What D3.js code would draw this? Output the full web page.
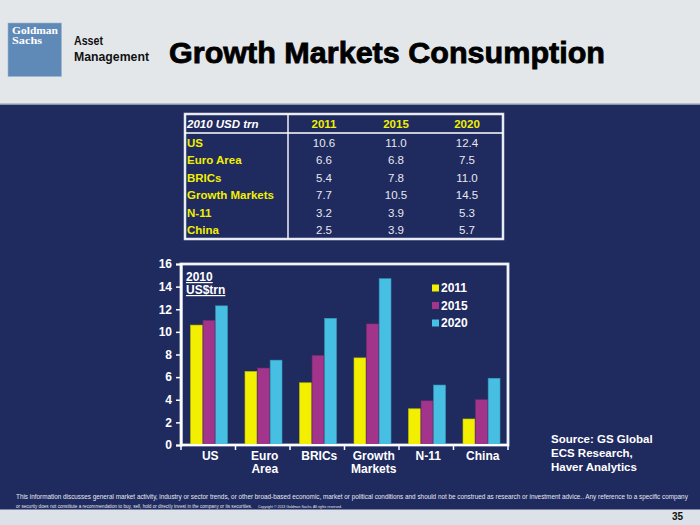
<!DOCTYPE html>
<html><head><meta charset="utf-8">
<script src="https://cdn.jsdelivr.net/npm/d3@7"></script>
<style>html,body{margin:0;padding:0;background:#1f2a5f;}svg{display:block;font-family:"Liberation Sans",Arial,sans-serif;}</style>
</head><body><svg id="c" width="700" height="525"></svg>
<script>
// ---- data ----
const categories = ["US", "Euro Area", "BRICs", "Growth Markets", "N-11", "China"];
const categoryLines = [["US"], ["Euro", "Area"], ["BRICs"], ["Growth", "Markets"], ["N-11"], ["China"]];
const seriesNames = ["2011", "2015", "2020"];
const values2011 = [10.6, 6.5, 5.5, 7.7, 3.2, 2.3];
const values2015 = [11.0, 6.8, 7.9, 10.7, 3.9, 4.0];
const values2020 = [12.3, 7.5, 11.2, 14.7, 5.3, 5.9];
const yTicks = [0, 2, 4, 6, 8, 10, 12, 14, 16];
const tableHeader = ["2010 USD trn", "2011", "2015", "2020"];
const tableRows = ["US", "Euro Area", "BRICs", "Growth Markets", "N-11", "China"];
const table2011 = [10.6, 6.6, 5.4, 7.7, 3.2, 2.5];
const table2015 = [11.0, 6.8, 7.8, 10.5, 3.9, 3.9];
const table2020 = [12.4, 7.5, 11.0, 14.5, 5.3, 5.7];

const NAVY = "#1f2a5f", YEL = "#f2ef00", MAG = "#a2358b", CYAN = "#46bfe3";
const colors = [YEL, MAG, CYAN];
const svg = d3.select("#c");

// fit a text's font-size so its natural width equals the target width
function fitText(sel, target) {
  const n = sel.node();
  const w = n.getComputedTextLength();
  const fs = parseFloat(sel.attr("font-size"));
  if (w > 0) sel.attr("font-size", fs * target / w);
  return sel;
}

// ---- background ----
svg.append("rect").attr("x",0).attr("y",0).attr("width",700).attr("height",525).attr("fill",NAVY);
svg.append("rect").attr("x",0).attr("y",0).attr("width",700).attr("height",104).attr("fill","#e4e7ea");
svg.append("rect").attr("x",0).attr("y",103.5).attr("width",700).attr("height",1.5).attr("fill","#8a93ad");

// logo
svg.append("rect").attr("x",8).attr("y",23).attr("width",53.5).attr("height",53.5).attr("fill","#5f89b6").attr("stroke","#9fb6d2").attr("stroke-width",0.6);
svg.append("text").attr("x",12).attr("y",33.5).attr("fill","#fff").attr("font-family","'Liberation Serif',serif").attr("font-weight","bold").attr("font-size",10).attr("textLength",46).attr("lengthAdjust","spacingAndGlyphs").text("Goldman");
svg.append("text").attr("x",12).attr("y",44).attr("fill","#fff").attr("font-family","'Liberation Serif',serif").attr("font-weight","bold").attr("font-size",10).attr("textLength",30).attr("lengthAdjust","spacingAndGlyphs").text("Sachs");
svg.append("text").attr("x",74).attr("y",45).attr("fill","#111").attr("font-weight","bold").attr("font-size",12).attr("textLength",29).attr("lengthAdjust","spacingAndGlyphs").text("Asset");
svg.append("text").attr("x",74).attr("y",61).attr("fill","#111").attr("font-weight","bold").attr("font-size",12).attr("textLength",75).attr("lengthAdjust","spacingAndGlyphs").text("Management");
svg.append("text").attr("x",169).attr("y",63).attr("fill","#000").attr("stroke","#000").attr("stroke-width",0.8).attr("font-weight","bold").attr("font-size",29).attr("textLength",436).attr("lengthAdjust","spacingAndGlyphs").text("Growth Markets Consumption");

// ---- table ----
const tb = svg.append("g");
const tL = 185, tR = 503, tT = 114, tB = 239, tV = 288, tH = 133;
tb.append("rect").attr("x",tL).attr("y",tT).attr("width",tR-tL).attr("height",tB-tT).attr("fill","none").attr("stroke","#c9cde0").attr("stroke-width",2.6);
tb.append("rect").attr("x",tL).attr("y",tT).attr("width",tR-tL).attr("height",tB-tT).attr("fill","none").attr("stroke","#fff").attr("stroke-width",1.2);
tb.append("line").attr("x1",tL).attr("x2",tR).attr("y1",tH).attr("y2",tH).attr("stroke","#fff").attr("stroke-width",1.4);
tb.append("line").attr("x1",tV).attr("x2",tV).attr("y1",tT).attr("y2",tB).attr("stroke","#fff").attr("stroke-width",1.4);
const colX = [187, 324, 396, 467];
const rowY = d3.scaleLinear().domain([0, tableRows.length-1]).range([142.7, 230]);
tb.append("text").attr("x",colX[0]).attr("y",124).attr("dy","0.35em").attr("fill","#fff").attr("font-weight","bold").attr("font-style","italic").attr("font-size",11.5).text(tableHeader[0]);
tableHeader.slice(1).forEach((h,i)=>{
  tb.append("text").attr("x",colX[i+1]).attr("y",124).attr("dy","0.35em").attr("text-anchor","middle").attr("fill",YEL).attr("font-weight","bold").attr("font-size",11.5).text(h);
});
const tcols = [table2011, table2015, table2020];
tableRows.forEach((r,i)=>{
  tb.append("text").attr("x",colX[0]).attr("y",rowY(i)).attr("dy","0.35em").attr("fill",YEL).attr("font-weight","bold").attr("font-size",11.5).text(r);
  tcols.forEach((col,j)=>{
    tb.append("text").attr("x",colX[j+1]).attr("y",rowY(i)).attr("dy","0.35em").attr("text-anchor","middle").attr("fill","#e8e8ee").attr("font-size",11.5).text(col[i].toFixed(1));
  });
});

// ---- chart ----
const x0 = 181, x1 = 508, yTop = 264, yBot = 445;
const x = d3.scaleBand().domain(categories).range([x0, x1]).padding(0);
const xs = d3.scaleBand().domain(seriesNames).range([9.5, 46.5]).paddingInner(0.06);
const y = d3.scaleLinear().domain([0, 16]).range([yBot, yTop]);
const series = [values2011, values2015, values2020];
const chart = svg.append("g");

// frame
chart.append("rect").attr("x",x0).attr("y",yTop).attr("width",x1-x0).attr("height",yBot-yTop).attr("fill","none").attr("stroke","#c0c5da").attr("stroke-width",3);
chart.append("rect").attr("x",x0).attr("y",yTop).attr("width",x1-x0).attr("height",yBot-yTop).attr("fill","none").attr("stroke","#fff").attr("stroke-width",1.6);

// bars
seriesNames.forEach((s,si)=>{
  chart.selectAll(null).data(categories).enter().append("rect")
    .attr("x", d=>x(d)+xs(s)).attr("width", xs.bandwidth())
    .attr("y", (d,i)=>y(series[si][i])).attr("height",(d,i)=>yBot-y(series[si][i]))
    .attr("fill", colors[si]).attr("stroke", d3.color(colors[si]).darker(0.6)).attr("stroke-width",0.6);
});

// y axis
const yAxis = chart.append("g").attr("transform",`translate(${x0},0)`)
  .call(d3.axisLeft(y).tickValues(yTicks).tickSize(5).tickFormat(d3.format("d")));
yAxis.select(".domain").attr("stroke","#fff").attr("stroke-width",2);
yAxis.selectAll(".tick line").attr("stroke","#fff").attr("stroke-width",1.5);
yAxis.selectAll(".tick text").attr("fill","#fff").attr("font-weight","bold").attr("font-size",12).attr("x",-9).attr("font-family","'Liberation Sans',Arial,sans-serif");

// x axis
const xAxis = chart.append("g").attr("transform",`translate(0,${yBot})`);
xAxis.append("line").attr("x1",x0).attr("x2",x1).attr("stroke","#fff").attr("stroke-width",2);
const bounds = categories.map(c=>x(c)).concat([x1]);
xAxis.selectAll(null).data(bounds).enter().append("line")
  .attr("x1",d=>d).attr("x2",d=>d).attr("y1",0).attr("y2",5).attr("stroke","#fff").attr("stroke-width",1.5);
categories.forEach((c,i)=>{
  categoryLines[i].forEach((ln,k)=>{
    xAxis.append("text").attr("x",x(c)+x.bandwidth()/2+2).attr("y",15+k*12.5).attr("text-anchor","middle")
      .attr("fill","#fff").attr("font-weight","bold").attr("font-size",12).text(ln);
  });
});

// unit annotation
[["2010",281],["US$trn",294]].forEach(([t,yy])=>{
  chart.append("text").attr("x",186).attr("y",yy).attr("fill","#fff").attr("font-weight","bold").attr("font-size",12).attr("text-decoration","underline").text(t);
});

// legend
seriesNames.forEach((s,i)=>{
  const ly = 288 + i*17.5;
  chart.append("rect").attr("x",432).attr("y",ly-3.5).attr("width",7).attr("height",7).attr("fill",colors[i]);
  chart.append("text").attr("x",441).attr("y",ly).attr("dy","0.36em").attr("fill","#fff").attr("font-weight","bold").attr("font-size",12).text(s);
});

// source
["Source: GS Global","ECS Research,","Haver Analytics"].forEach((t,i)=>{
  svg.append("text").attr("x",551).attr("y",443+i*14).attr("fill","#fff").attr("font-weight","bold").attr("font-size",11.5).text(t);
});

// footer
const NARROW = "'Liberation Sans Narrow','Arial Narrow','Liberation Sans',Arial,sans-serif";
fitText(svg.append("text").attr("x",16).attr("y",499).attr("fill","#e6e8f0").attr("font-family",NARROW).attr("font-size",8)
  .text("This information discusses general market activity, industry or sector trends, or other broad-based economic, market or political conditions and should not be construed as research or investment advice.. Any reference to a specific company"), 672);
fitText(svg.append("text").attr("x",16).attr("y",508).attr("fill","#e6e8f0").attr("font-family",NARROW).attr("font-size",8)
  .text("or security does not constitute a recommendation to buy, sell, hold or directly invest in the company or its securities."), 237);
fitText(svg.append("text").attr("x",258).attr("y",508).attr("fill","#e6e8f0").attr("font-family",NARROW).attr("font-size",5)
  .text("Copyright © 2013 Goldman Sachs. All rights reserved."), 84);
svg.append("rect").attr("x",0).attr("y",509.5).attr("width",700).attr("height",15.5).attr("fill","#dde2e8");
svg.append("text").attr("x",683).attr("y",520).attr("text-anchor","end").attr("fill","#111").attr("font-weight","bold").attr("font-size",10).text("35");
</script></body></html>
